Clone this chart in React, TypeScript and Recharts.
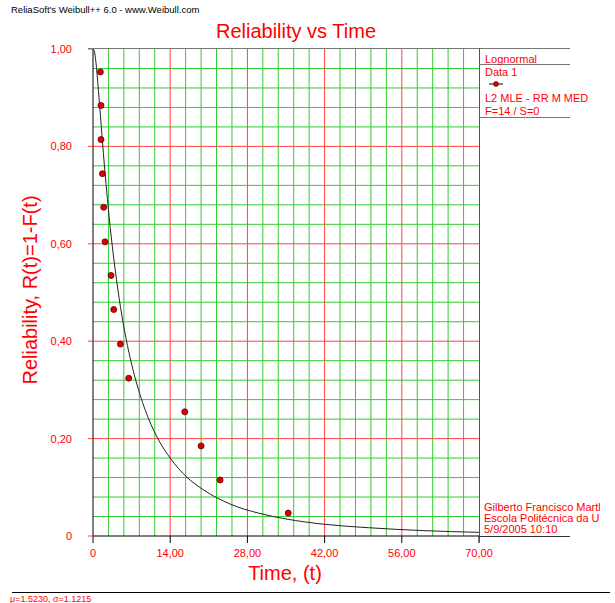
import React from "react";
import { ComposedChart, Line, Scatter, XAxis, YAxis, ReferenceLine } from "recharts";

// median-rank points
const failureTimes = [1.34, 1.45, 1.45, 1.71, 1.94, 2.18, 3.27, 3.76, 4.97, 6.48, 16.64, 19.6, 23.05, 35.4];
const reliabilityPoints = [0.953, 0.884, 0.814, 0.744, 0.675, 0.604, 0.535, 0.465, 0.394, 0.324, 0.255, 0.185, 0.115, 0.047];

// fitted lognormal line
const curveTimes = [0, 0.25, 0.5, 0.75, 1, 1.5, 2, 2.5, 3, 4, 5, 6, 7, 8, 10, 12, 14, 17, 20, 25, 30, 35, 42, 50, 60, 70];
const curveReliability = [1, 0.995, 0.976, 0.947, 0.913, 0.841, 0.77, 0.706, 0.647, 0.549, 0.469, 0.405, 0.353, 0.31, 0.243, 0.195, 0.16, 0.121, 0.095, 0.065, 0.047, 0.035, 0.024, 0.017, 0.011, 0.0075];

const xTicks = [0, 14, 28, 42, 56, 70];
const yTicks = [0, 0.2, 0.4, 0.6, 0.8, 1];
const legendLines = ["Lognormal", "Data 1", "L2 MLE - RR M MED", "F=14 / S=0"];
const noteLines = ["Gilberto Francisco Martl", "Escola Politécnica da U", "5/9/2005 10:10"];

const W = 615;
const H = 603;
const font = "'Liberation Sans', Arial, sans-serif";
const RED = "#ff0000";
const GREEN = "#33cc33";
const GRID_RED = "#ff4444";

const points = failureTimes.map((t, i) => ({ t, r: reliabilityPoints[i] }));
const curve = curveTimes.map((t, i) => ({ t, r: curveReliability[i] }));

const minorX = Array.from({ length: 24 }, (_, i) => i + 1).filter((k) => k % 5 !== 0).map((k) => k * 2.8);
const minorY = Array.from({ length: 24 }, (_, i) => i + 1).filter((k) => k % 5 !== 0).map((k) => k * 0.04);
const majorX = [14, 28, 42, 56];
const majorY = [0.2, 0.4, 0.6, 0.8];

const fmt = (v: number) => (v === 0 ? "0" : v.toFixed(2).replace(".", ","));

const Dot = (props: any) => (
  <circle cx={props.cx} cy={props.cy} r={3} fill="#e00000" stroke="#5a0000" strokeWidth={0.8} />
);

export default function App() {
  return (
    <div style={{ position: "absolute", left: 0, top: 0, width: W, height: H, background: "#fff" }}>
      <ComposedChart width={W} height={H} margin={{ top: 49, right: 136, bottom: 37, left: 33 }}>
        <XAxis
          dataKey="t"
          type="number"
          domain={[0, 70]}
          ticks={xTicks}
          tickFormatter={fmt}
          height={30}
          tickSize={7}
          tickMargin={6}
          axisLine={{ stroke: "#000" }}
          tickLine={{ stroke: "#000" }}
          tick={{ fill: RED, fontSize: 11, fontFamily: font }}
          allowDataOverflow
        />
        <YAxis
          dataKey="r"
          type="number"
          domain={[0, 1]}
          ticks={yTicks}
          tickFormatter={fmt}
          width={60}
          tickSize={5}
          tickMargin={16}
          axisLine={{ stroke: "#000" }}
          tickLine={{ stroke: GRID_RED }}
          tick={{ fill: RED, fontSize: 11, fontFamily: font }}
          allowDataOverflow
        />
        {minorX.map((v) => (
          <ReferenceLine key={"mx" + v} x={v} stroke={GREEN} strokeWidth={1} />
        ))}
        {minorY.map((v) => (
          <ReferenceLine key={"my" + v} y={v} stroke={GREEN} strokeWidth={1} />
        ))}
        {majorX.map((v) => (
          <ReferenceLine key={"Mx" + v} x={v} stroke={GRID_RED} strokeWidth={1} />
        ))}
        {majorY.map((v) => (
          <ReferenceLine key={"My" + v} y={v} stroke={GRID_RED} strokeWidth={1} />
        ))}
        <Line
          data={curve}
          dataKey="r"
          type="monotone"
          stroke="#222"
          strokeWidth={1}
          dot={false}
          isAnimationActive={false}
        />
        <Scatter data={points} dataKey="r" shape={<Dot />} isAnimationActive={false} />
      </ComposedChart>

      <svg
        width={W}
        height={H}
        style={{ position: "absolute", left: 0, top: 0, pointerEvents: "none" }}
        fontFamily={font}
      >
        <text x={11} y={13} fontSize={9.5} fill="#000">
          ReliaSoft's Weibull++ 6.0 - www.Weibull.com
        </text>
        <text x={296} y={38} fontSize={20} fill={RED} textAnchor="middle">
          Reliability vs Time
        </text>
        <text
          x={0}
          y={0}
          fontSize={20}
          fill={RED}
          textAnchor="middle"
          dominantBaseline="central"
          transform="translate(30,290) rotate(-90)"
        >
          Reliability, R(t)=1-F(t)
        </text>
        <text x={285} y={580} fontSize={20} fill={RED} textAnchor="middle">
          Time, (t)
        </text>

        {/* frame and legend box */}
        <line x1={88} y1={48.5} x2={570} y2={48.5} stroke="#777" />
        <line x1={479.5} y1={48} x2={479.5} y2={543} stroke="#555" />
        <line x1={479} y1={64.5} x2={570} y2={64.5} stroke="#777" />
        <line x1={479} y1={117.5} x2={570} y2={117.5} stroke="#777" />
        <line x1={479} y1={536.5} x2={570} y2={536.5} stroke="#333" />

        <text x={485} y={63} fontSize={11} fill={RED}>{legendLines[0]}</text>
        <text x={485} y={76} fontSize={11} fill={RED}>{legendLines[1]}</text>
        <line x1={489} y1={84} x2={503} y2={84} stroke="#000" />
        <circle cx={496} cy={84} r={2.5} fill="#e00000" stroke="#5a0000" strokeWidth={0.6} />
        <text x={485} y={102} fontSize={11} fill={RED}>{legendLines[2]}</text>
        <text x={485} y={115} fontSize={11} fill={RED}>{legendLines[3]}</text>

        {noteLines.map((s, i) => (
          <text key={s} x={484} y={511 + i * 11} fontSize={11} fill={RED}>
            {s}
          </text>
        ))}

        <line x1={12} y1={592.5} x2={610} y2={592.5} stroke="#000" />
        <text x={10} y={602} fontSize={9} fill={RED}>
          μ=1.5230, σ=1.1215
        </text>
      </svg>
    </div>
  );
}
